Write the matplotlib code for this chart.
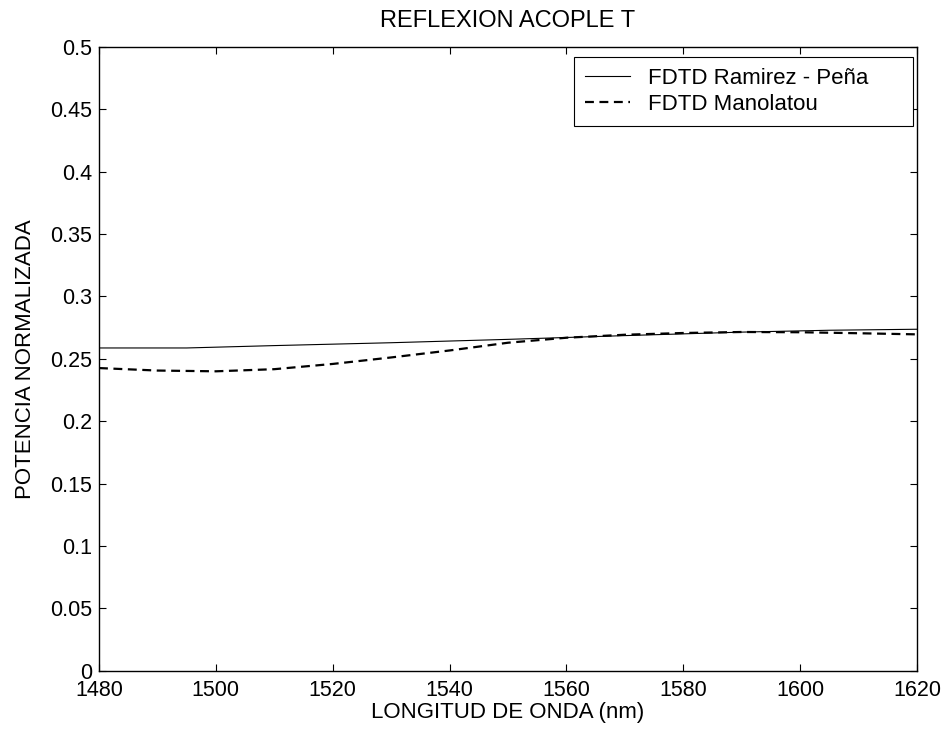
import matplotlib
matplotlib.use("Agg")
import matplotlib.pyplot as plt

plt.rcParams['font.family'] = ['Liberation Sans', 'DejaVu Sans']

wl_rp = [1480, 1495, 1510, 1530, 1550, 1570, 1590, 1605, 1620]
p_rp = [0.2586, 0.2586, 0.2605, 0.2628, 0.2655, 0.2685, 0.2713, 0.2728, 0.2736]

wl_m = [1480, 1490, 1500, 1510, 1520, 1530, 1540, 1550, 1560, 1570, 1580, 1590, 1600, 1610, 1620]
p_m = [0.2425, 0.2405, 0.2399, 0.2416, 0.2458, 0.2510, 0.2566, 0.2628, 0.2668, 0.2692,
       0.2706, 0.2714, 0.2712, 0.2704, 0.2695]

xticks = [1480, 1500, 1520, 1540, 1560, 1580, 1600, 1620]
yticks = [0, 0.05, 0.1, 0.15, 0.2, 0.25, 0.3, 0.35, 0.4, 0.45, 0.5]
ytick_labels = ['0', '0.05', '0.1', '0.15', '0.2', '0.25', '0.3', '0.35', '0.4', '0.45', '0.5']

fig = plt.figure(figsize=(9.48, 7.36), dpi=100)
ax = fig.add_axes([99/948, 1 - 670.7/736, (917-99)/948, (670.7-46.7)/736])

ax.plot(wl_rp, p_rp, color='black', lw=0.8, label='FDTD Ramirez - Peña')
ax.plot(wl_m, p_m, color='black', lw=1.6, linestyle=(0, (4, 2.5)), label='FDTD Manolatou')

ax.set_xlim(1480, 1620)
ax.set_ylim(0, 0.5)
ax.set_xticks(xticks)
ax.set_xticklabels([str(t) for t in xticks])
ax.set_yticks(yticks)
ax.set_yticklabels(ytick_labels)
ax.tick_params(direction='in', top=True, right=True, length=5, width=0.8, labelsize=15.5)
ax.tick_params(axis='x', pad=7)
ax.tick_params(axis='y', pad=5)
for s in ax.spines.values():
    s.set_linewidth(1.0)

ax.set_title('REFLEXION ACOPLE T', fontsize=17, pad=14)
ax.set_xlabel('LONGITUD DE ONDA (nm)', fontsize=16)
ax.set_ylabel('POTENCIA NORMALIZADA', fontsize=16)
ax.xaxis.set_label_coords(0.5, -0.0498)
ax.yaxis.set_label_coords(-0.0774, 0.5)

leg = ax.legend(loc='upper left', bbox_to_anchor=(0.5807, 0.9835, 0.4144, 0.0),
                mode='expand', fontsize=16,
                frameon=True, fancybox=False, edgecolor='black', framealpha=1,
                borderaxespad=0, handlelength=2.0, handletextpad=0.85,
                borderpad=0.5, labelspacing=0.2)
leg.get_frame().set_linewidth(0.8)

fig.savefig('out.png', dpi=100)
